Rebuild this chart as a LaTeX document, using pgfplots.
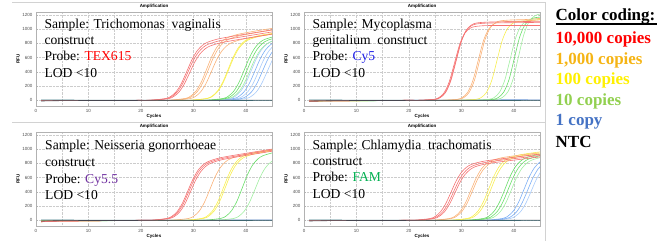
\documentclass[border=0pt]{standalone}
\usepackage{pgfplots}
\pgfplotsset{compat=1.18}
\usepackage{fontspec}
\setmainfont{Liberation Serif}
\newfontfamily\sansf{Liberation Sans}
\definecolor{cR}{RGB}{245,115,115}
\definecolor{cO}{RGB}{250,178,120}
\definecolor{cY}{RGB}{248,238,80}
\definecolor{cG}{RGB}{105,222,105}
\definecolor{cGL}{RGB}{160,238,160}
\definecolor{cB}{RGB}{125,175,245}
\definecolor{cBL}{RGB}{168,203,250}
\definecolor{cN}{RGB}{70,70,80}
\definecolor{cT}{RGB}{60,120,130}
\definecolor{lred}{RGB}{255,0,0}
\definecolor{lorange}{RGB}{245,180,20}
\definecolor{lyellow}{RGB}{255,240,0}
\definecolor{lgreen}{RGB}{146,208,80}
\definecolor{lblue}{RGB}{68,114,196}
\definecolor{pTEX}{RGB}{255,0,0}
\definecolor{pCyfive}{RGB}{30,30,230}
\definecolor{pCyfivefive}{RGB}{112,48,160}
\definecolor{pFAM}{RGB}{0,176,80}
\pgfplotsset{
  qp/.style={
    width=236pt, height=94pt, scale only axis,
    xmin=0, xmax=45, ymin=-80, ymax=1240,
    xtick={0,10,20,30,40}, ytick={0,200,400,600,800,1000,1200},
    minor xtick={5,15,25,35},
    grid=both, grid style={densely dotted, gray!40},
    axis line style={gray!60}, tick style={gray!60},
    major tick length=1.5pt, minor tick length=0pt,
    tick label style={font=\sansf\fontsize{4.5}{5}\selectfont, text=black!70},
    /pgf/number format/assume math mode=true,
    /pgf/number format/1000 sep={},
    every axis title shift=0pt,
    title={Amplification},
    title style={font=\sansf\bfseries\fontsize{4.5}{5}\selectfont, at={(axis description cs:0.5,1.064)}, anchor=center},
    xlabel={Cycles},
    xlabel style={font=\sansf\bfseries\fontsize{4.5}{5}\selectfont, at={(axis description cs:0.5,-0.106)}, anchor=center},
    ylabel={RFU},
    ylabel style={font=\sansf\bfseries\fontsize{4.5}{5}\selectfont, at={(axis description cs:-0.076,0.5)}, anchor=center},
    every axis plot/.append style={line width=0.6pt, smooth, no markers},
  },
  sR/.style={color=cR}, sO/.style={color=cO}, sY/.style={color=cY},
  sG/.style={color=cG}, sGL/.style={color=cGL}, sB/.style={color=cB},
  sBL/.style={color=cBL}, sN/.style={color=cN}, sT/.style={color=cT},
}
\begin{document}
\begin{tikzpicture}
\path[use as bounding box] (0,0) rectangle (670pt,241pt);
\draw[gray!35, line width=0.6pt] (12pt,239pt) -- (545pt,239pt);
\draw[gray!35, line width=0.6pt] (12pt,118.3pt) -- (545pt,118.3pt);
\draw[gray!35, line width=0.6pt] (545pt,0pt) -- (545pt,239pt);

% ---------------- Panel 1: Trichomonas vaginalis (TEX615)
\begin{axis}[qp, at={(36pt,135pt)}, anchor=south west]
\addplot[sBL] coordinates {(1,0)(34,0)(37,2)(40,24)(41,54)(42,117)(43,231)(44,390)(45,554)(46,676)};
\addplot[sB] coordinates {(1,0)(33.1,0)(36.1,2)(39.1,24)(40.1,55)(41.1,119)(42.1,234)(43.1,395)(44.1,561)(45.1,685)(46.1,761)};
\addplot[sBL] coordinates {(1,0)(32.4,0)(35.4,2)(38.4,25)(39.4,56)(40.4,121)(41.4,237)(42.4,400)(43.4,568)(44.4,693)(45.4,770)(46.4,813)};
\addplot[sB] coordinates {(1,0)(31.7,0)(34.7,2)(37.7,25)(38.7,56)(39.7,122)(40.7,240)(41.7,405)(42.7,575)(43.7,702)(44.7,779)(45.7,823)(47.7,865)};
\addplot[sBL] coordinates {(1,0)(31,0)(34,2)(37,25)(38,57)(39,124)(40,243)(41,410)(42,582)(43,710)(44,788)(45,832)(47,875)};
\addplot[sGL] coordinates {(1,0)(30.7,0)(33.7,2)(36.7,25)(37.7,56)(38.7,122)(39.7,239)(40.7,404)(41.7,572)(42.7,699)(43.7,776)(44.7,820)(46.7,862)};
\addplot[sG] coordinates {(1,0)(30.2,0)(33.2,2)(36.2,26)(37.2,58)(38.2,125)(39.2,246)(40.2,416)(41.2,590)(42.2,720)(43.2,800)(44.2,844)(46.2,887)};
\addplot[sG] coordinates {(1,0)(29.7,0)(32.7,2)(35.7,26)(36.7,59)(37.7,128)(38.7,251)(39.7,424)(40.7,600)(41.7,733)(42.7,814)(43.7,858)(45.7,901)};
\addplot[sY] coordinates {(1,0)(26.7,0)(29.7,2)(32.7,26)(33.7,59)(34.7,128)(35.7,250)(36.7,423)(37.7,599)(38.7,731)(39.7,812)(40.7,856)(42.7,899)(45.7,935)};
\addplot[sY] coordinates {(1,0)(26.6,0)(29.6,2)(32.6,26)(33.6,60)(34.6,129)(35.6,253)(36.6,428)(37.6,607)(38.6,741)(39.6,822)(40.6,867)(42.6,910)(45.6,946)};
\addplot[sO] coordinates {(1,0)(23.4,0)(26.4,2)(29.4,24)(30.4,55)(31.4,119)(32.4,233)(33.4,396)(34.4,563)(35.4,689)(36.4,767)(37.4,812)(39.4,858)(42.4,899)(46.4,947)};
\addplot[sO] coordinates {(1,0)(22.8,0)(25.8,2)(28.8,26)(29.8,58)(30.8,126)(31.8,248)(32.8,420)(33.8,596)(34.8,730)(35.8,812)(36.8,858)(38.8,906)(41.8,947)(45.8,995)};
\addplot[sO] coordinates {(1,0)(22.5,0)(25.5,2)(28.5,26)(29.5,60)(30.5,129)(31.5,254)(32.5,430)(33.5,611)(34.5,747)(35.5,831)(36.5,879)(38.5,926)(41.5,968)(45.5,1016)};
\addplot[sR] coordinates {(1,0)(19.2,0)(22.2,2)(25.2,22)(26.2,51)(27.2,111)(28.2,218)(29.2,370)(30.2,527)(31.2,646)(32.2,720)(33.2,763)(35.2,807)(38.2,848)(42.2,896)(46.2,944)};
\addplot[sR] coordinates {(1,0)(18.9,0)(21.9,2)(24.9,23)(25.9,53)(26.9,115)(27.9,226)(28.9,384)(29.9,546)(30.9,669)(31.9,745)(32.9,789)(34.9,834)(37.9,875)(41.9,923)(45.9,971)};
\addplot[sR] coordinates {(1,0)(18.7,0)(21.7,2)(24.7,24)(25.7,55)(26.7,119)(27.7,234)(28.7,397)(29.7,565)(30.7,692)(31.7,770)(32.7,815)(34.7,861)(37.7,902)(41.7,950)(45.7,998)};
\addplot[sT] coordinates {(1,5)(10,3)(20,2)(30,0)(40,-3)(45,-5)};
\addplot[sN] coordinates {(1,-10)(5,-5)(10,-3)(20,-2)(30,0)(40,2)(45,3)};
\end{axis}

% ---------------- Panel 2: Mycoplasma genitalium (Cy5)
\begin{axis}[qp, at={(304pt,135pt)}, anchor=south west]
\addplot[sB] coordinates {(1,-5)(10,-2)(20,0)(30,3)(40,8)(45,5)};
\addplot[sGL] coordinates {(1,-10)(30.9,0)(33.9,0)(36.9,15)(37.9,44)(38.9,122)(39.9,306)(40.9,613)(41.9,919)(42.9,1103)(43.9,1181)(44.9,1210)(46.9,1223)};
\addplot[sG] coordinates {(1,-10)(30.1,0)(33.1,0)(36.1,14)(37.1,42)(38.1,117)(39.1,293)(40.1,588)(41.1,882)(42.1,1058)(43.1,1133)(44.1,1161)(46.1,1173)};
\addplot[sGL] coordinates {(1,-10)(29.3,0)(32.3,0)(35.3,14)(36.3,41)(37.3,115)(38.3,287)(39.3,575)(40.3,863)(41.3,1035)(42.3,1109)(43.3,1136)(45.3,1148)};
\addplot[sY] coordinates {(1,-10)(26.8,0)(29.8,0)(32.8,14)(33.8,40)(34.8,112)(35.8,280)(36.8,560)(37.8,840)(38.8,1008)(39.8,1080)(40.8,1106)(42.8,1118)(45,1135)};
\addplot[sO] coordinates {(1,-10)(23.5,0)(26.5,0)(29.5,14)(30.5,40)(31.5,113)(32.5,282)(33.5,565)(34.5,848)(35.5,1017)(36.5,1090)(37.5,1116)(39.5,1128)(42.5,1135)(45,1150)};
\addplot[sO] coordinates {(1,-10)(23.2,0)(26.2,0)(29.2,13)(30.2,40)(31.2,111)(32.2,277)(33.2,555)(34.2,833)(35.2,999)(36.2,1070)(37.2,1097)(39.2,1108)(42.2,1115)(45,1130)};
\addplot[sR] coordinates {(1,-10)(19,0)(22,0)(25,13)(26,39)(27,110)(28,275)(29,550)(30,825)(31,990)(32,1061)(33,1087)(35,1098)(38,1102)(46,1110)};
\addplot[sR] coordinates {(1,-10)(18.9,0)(21.9,0)(24.9,13)(25.9,39)(26.9,108)(27.9,271)(28.9,543)(29.9,814)(30.9,977)(31.9,1046)(32.9,1072)(34.9,1084)(37.9,1088)(45.9,1095)};
\addplot[sR] coordinates {(1,-10)(18.7,0)(21.7,0)(24.7,13)(25.7,37)(26.7,105)(27.7,262)(28.7,525)(29.7,788)(30.7,945)(31.7,1013)(32.7,1037)(34.7,1049)(37.7,1050)(45.7,1050)};
\addplot[sT] coordinates {(1,5)(10,3)(20,2)(30,0)(40,-3)(45,-5)};
\addplot[sN] coordinates {(1,-12)(5,-6)(10,-3)(20,-2)(30,0)(40,2)(45,3)};
\end{axis}

% ---------------- Panel 3: Neisseria gonorrhoeae (Cy5.5)
\begin{axis}[qp, at={(36pt,15pt)}, anchor=south west]
\addplot[sB] coordinates {(1,-5)(10,-2)(20,0)(30,2)(40,5)(45,4)};
\addplot[sGL] coordinates {(1,-10)(31.7,0)(34.7,2)(37.7,26)(38.7,59)(39.7,128)(40.7,251)(41.7,424)(42.7,600)(43.7,733)(44.7,814)(45.7,858)};
\addplot[sG] coordinates {(1,-10)(29.3,0)(32.3,2)(35.3,28)(36.3,63)(37.3,136)(38.3,266)(39.3,449)(40.3,636)(41.3,776)(42.3,861)(43.3,908)(45.3,952)};
\addplot[sY] coordinates {(1,-10)(26,0)(29,2)(32,27)(33,62)(34,134)(35,262)(36,443)(37,627)(38,765)(39,849)(40,895)(42,939)(45,975)};
\addplot[sY] coordinates {(1,-10)(25.7,0)(28.7,2)(31.7,28)(32.7,63)(33.7,136)(34.7,266)(35.7,449)(36.7,635)(37.7,775)(38.7,860)(39.7,907)(41.7,951)(44.7,987)(48.7,1027)};
\addplot[sO] coordinates {(1,-30)(4,-5)(23.1,0)(26.1,2)(29.1,26)(30.1,59)(31.1,127)(32.1,250)(33.1,424)(34.1,602)(35.1,736)(36.1,819)(37.1,866)(39.1,913)(42.1,955)(46.1,1003)};
\addplot[sR] coordinates {(1,-15)(19.4,0)(22.4,2)(25.4,24)(26.4,54)(27.4,117)(28.4,231)(29.4,392)(30.4,557)(31.4,682)(32.4,760)(33.4,804)(35.4,850)(38.4,891)(42.4,939)(46.4,987)};
\addplot[sR] coordinates {(1,-15)(19.1,0)(22.1,2)(25.1,24)(26.1,55)(27.1,119)(28.1,234)(29.1,397)(30.1,565)(31.1,692)(32.1,770)(33.1,815)(35.1,861)(38.1,902)(42.1,950)(46.1,998)};
\addplot[sR] coordinates {(1,-15)(18.9,0)(21.9,2)(24.9,25)(25.9,56)(26.9,121)(27.9,238)(28.9,404)(29.9,574)(30.9,703)(31.9,782)(32.9,827)(34.9,874)(37.9,915)(41.9,963)(45.9,1011)};
\addplot[sT] coordinates {(1,5)(10,3)(20,2)(30,0)(40,-3)(45,-5)};
\addplot[sN] coordinates {(1,-10)(5,-5)(10,-3)(20,-2)(30,0)(40,2)(45,3)};
\end{axis}

% ---------------- Panel 4: Chlamydia trachomatis (FAM)
\begin{axis}[qp, at={(304pt,15pt)}, anchor=south west]
\addplot[sBL] coordinates {(1,-5)(33.3,0)(36.3,2)(39.3,25)(40.3,57)(41.3,122)(42.3,240)(43.3,405)(44.3,574)(45.3,700)};
\addplot[sB] coordinates {(1,-5)(32.6,0)(35.6,2)(38.6,26)(39.6,58)(40.6,125)(41.6,246)(42.6,415)(43.6,588)(44.6,717)(45.6,795)};
\addplot[sB] coordinates {(1,-5)(31.9,0)(34.9,2)(37.9,26)(38.9,60)(39.9,129)(40.9,252)(41.9,425)(42.9,602)(43.9,734)(44.9,813)(45.9,857)};
\addplot[sGL] coordinates {(1,-5)(29.5,0)(32.5,2)(35.5,26)(36.5,59)(37.5,127)(38.5,249)(39.5,420)(40.5,595)(41.5,725)(42.5,804)(43.5,848)(45.5,889)};
\addplot[sG] coordinates {(1,-5)(28.9,0)(31.9,2)(34.9,26)(35.9,60)(36.9,129)(37.9,253)(38.9,428)(39.9,605)(40.9,738)(41.9,818)(42.9,862)(44.9,904)(47.9,936)};
\addplot[sG] coordinates {(1,-5)(28.3,0)(31.3,2)(34.3,27)(35.3,61)(36.3,132)(37.3,258)(38.3,435)(39.3,616)(40.3,751)(41.3,832)(42.3,877)(44.3,918)(47.3,951)};
\addplot[sY] coordinates {(1,-5)(25.6,0)(28.6,2)(31.6,27)(32.6,60)(33.6,130)(34.6,255)(35.6,430)(36.6,609)(37.6,742)(38.6,823)(39.6,867)(41.6,909)(44.6,941)(48.6,977)};
\addplot[sY] coordinates {(1,-5)(25.2,0)(28.2,2)(31.2,27)(32.2,61)(33.2,132)(34.2,258)(35.2,436)(36.2,617)(37.2,753)(38.2,834)(39.2,879)(41.2,920)(44.2,953)(48.2,989)};
\addplot[sO] coordinates {(1,-5)(22.1,0)(25.1,2)(28.1,25)(29.1,57)(30.1,123)(31.1,241)(32.1,407)(33.1,577)(34.1,703)(35.1,780)(36.1,823)(38.1,863)(41.1,895)(45.1,931)};
\addplot[sO] coordinates {(1,-5)(21.8,0)(24.8,2)(27.8,26)(28.8,58)(29.8,126)(30.8,246)(31.8,416)(32.8,589)(33.8,718)(34.8,796)(35.8,839)(37.8,880)(40.8,912)(44.8,948)};
\addplot[sR] coordinates {(1,-5)(18.7,0)(21.7,2)(24.7,23)(25.7,52)(26.7,112)(27.7,220)(28.7,372)(29.7,527)(30.7,643)(31.7,714)(32.7,754)(34.7,792)(37.7,824)(41.7,860)(45.7,896)};
\addplot[sR] coordinates {(1,-5)(18.4,0)(21.4,2)(24.4,23)(25.4,53)(26.4,115)(27.4,225)(28.4,381)(29.4,540)(30.4,659)(31.4,731)(32.4,771)(34.4,810)(37.4,842)(41.4,878)(45.4,914)};
\addplot[sR] coordinates {(1,-5)(18,0)(21,2)(24,24)(25,54)(26,117)(27,230)(28,389)(29,551)(30,672)(31,746)(32,787)(34,826)(37,858)(41,894)(45,930)};
\addplot[sT] coordinates {(1,5)(10,3)(20,2)(30,0)(40,-3)(45,-5)};
\addplot[sN] coordinates {(1,-10)(5,-5)(10,-3)(20,-2)(30,0)(40,2)(45,3)};
\end{axis}

% ---------------- Panel texts
\begin{scope}[every node/.style={anchor=base west, inner sep=0pt, font=\fontsize{13.6}{16}\selectfont}]
\node at (44.3pt,212.7pt) {Sample: Trichomonas\ \ vaginalis};
\node at (44.3pt,196.3pt) {construct};
\node at (44.3pt,180pt) {Probe: \textcolor{pTEX}{TEX615}};
\node at (44.3pt,163.7pt) {LOD {<}10};

\node at (312.3pt,212.7pt) {Sample: Mycoplasma};
\node at (312.3pt,196.3pt) {genitalium\ \ construct};
\node at (312.3pt,180pt) {Probe: \textcolor{pCyfive}{Cy5}};
\node at (312.3pt,163.7pt) {LOD {<}10};

\node at (45pt,91pt) {Sample: Neisseria gonorrhoeae};
\node at (45pt,74.3pt) {construct};
\node at (45pt,57.7pt) {Probe: \textcolor{pCyfivefive}{Cy5.5}};
\node at (45pt,41.7pt) {LOD {<}10};

\node at (312.3pt,91.7pt) {Sample: Chlamydia\ \ trachomatis};
\node at (312.3pt,75.3pt) {construct};
\node at (312.3pt,59.3pt) {Probe: \textcolor{pFAM}{FAM}};
\node at (312.3pt,42.7pt) {LOD {<}10};
\end{scope}

% ---------------- Colour key
\begin{scope}[every node/.style={anchor=base west, inner sep=0pt, font=\bfseries\fontsize{17}{20}\selectfont}]
\node at (555.5pt,220.3pt) {Color coding:};
\draw[black, line width=1.1pt] (555.5pt,217pt) -- (657pt,217pt);
\node[text=lred] at (555.5pt,197.7pt) {10,000 copies};
\node[text=lorange] at (555.5pt,176.7pt) {1,000 copies};
\node[text=lyellow] at (555.5pt,156pt) {100 copies};
\node[text=lgreen] at (555.5pt,135pt) {10 copies};
\node[text=lblue] at (555.5pt,115pt) {1 copy};
\node[text=black] at (555.5pt,93pt) {NTC};
\end{scope}
\end{tikzpicture}
\end{document}
